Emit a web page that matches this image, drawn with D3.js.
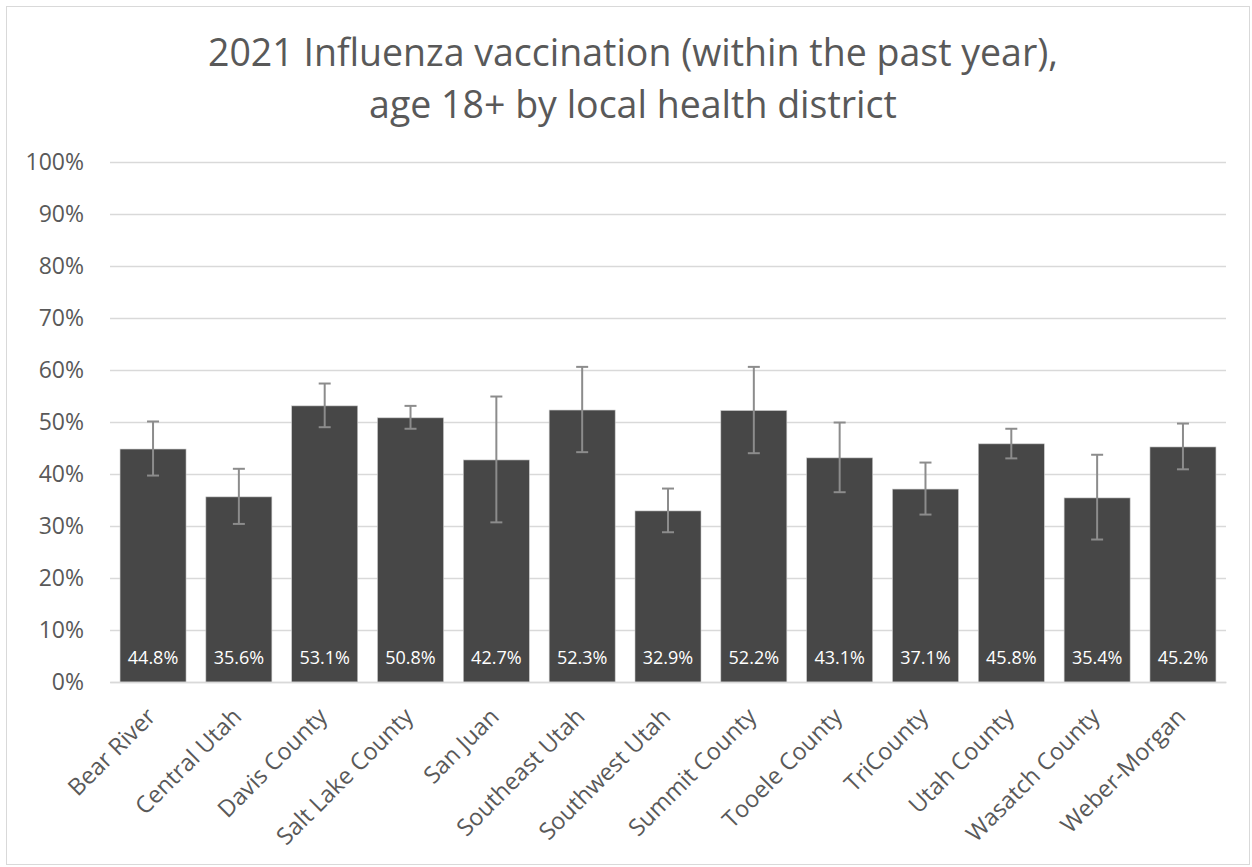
<!DOCTYPE html>
<html><head><meta charset="utf-8">
<script src="https://cdn.jsdelivr.net/npm/d3@7"></script>
<style>
html,body{margin:0;padding:0;background:#fff;}
svg{display:block;font-family:"Open Sans",sans-serif;}
</style></head>
<body>
<svg id="chart" width="1252" height="867"></svg>
<script>
const categories = ["Bear River","Central Utah","Davis County","Salt Lake County","San Juan","Southeast Utah","Southwest Utah","Summit County","Tooele County","TriCounty","Utah County","Wasatch County","Weber-Morgan"];
const values = [44.8,35.6,53.1,50.8,42.7,52.3,32.9,52.2,43.1,37.1,45.8,35.4,45.2];
const lower = [39.7,30.4,49.0,48.7,30.7,44.2,28.8,44.0,36.5,32.2,43.0,27.4,40.9];
const upper = [50.1,41.0,57.4,53.1,54.9,60.6,37.2,60.6,49.9,42.2,48.7,43.7,49.7];
const yTicks = [0,10,20,30,40,50,60,70,80,90,100];
const titleLines = ["2021 Influenza vaccination (within the past year),","age 18+ by local health district"];

const svg = d3.select("#chart");
svg.append("rect").attr("x",6.5).attr("y",6.5).attr("width",1243).attr("height",858)
  .attr("fill","#fff").attr("stroke","#d9d9d9").attr("stroke-width",1);

const x = d3.scaleBand().domain(categories).range([110,1226]).paddingInner(0.231).paddingOuter(0.117);
const y = d3.scaleLinear().domain([0,100]).range([682,162]);

// title
svg.append("g").selectAll("text").data(titleLines).join("text")
  .attr("x",633).attr("y",(d,i)=>66+i*52).attr("text-anchor","middle")
  .attr("font-size",37.5).attr("fill","#595959").text(d=>d);

// grid
const yAxis = d3.axisLeft(y).tickValues(yTicks).tickFormat(d=>d+"%").tickSize(-(1226-110)).tickPadding(26);
const gy = svg.append("g").attr("transform","translate(110,0)").call(yAxis);
gy.select(".domain").remove();
gy.selectAll(".tick line").attr("stroke","#d9d9d9").attr("stroke-width",1.5);
gy.selectAll(".tick text").attr("font-size",23).attr("fill","#595959").attr("font-family","Open Sans, sans-serif");

// bars
svg.append("g").selectAll("rect").data(values).join("rect")
  .attr("x",(d,i)=>x(categories[i])).attr("width",x.bandwidth())
  .attr("y",d=>y(d)).attr("height",d=>y(0)-y(d))
  .attr("fill","#474747").attr("stroke","#c8c8c8").attr("stroke-width",0.6);

// error bars
const eg = svg.append("g").attr("stroke","#8c8c8c").attr("stroke-width",2);
categories.forEach((c,i)=>{
  const cx = x(c)+x.bandwidth()/2;
  eg.append("line").attr("x1",cx).attr("x2",cx).attr("y1",y(lower[i])).attr("y2",y(upper[i]));
  eg.append("line").attr("x1",cx-6).attr("x2",cx+6).attr("y1",y(lower[i])).attr("y2",y(lower[i]));
  eg.append("line").attr("x1",cx-6).attr("x2",cx+6).attr("y1",y(upper[i])).attr("y2",y(upper[i]));
});

// value labels
svg.append("g").selectAll("text").data(values).join("text")
  .attr("x",(d,i)=>x(categories[i])+x.bandwidth()/2).attr("y",663.5)
  .attr("text-anchor","middle").attr("font-size",18).attr("fill","#fff")
  .text(d=>d.toFixed(1)+"%");

// x labels
const xAxis = d3.axisBottom(x).tickSize(0).tickPadding(0);
const gx = svg.append("g").attr("transform","translate(0,682)").call(xAxis);
gx.select(".domain").attr("stroke","#d9d9d9").attr("stroke-width",1.5);
gx.selectAll(".tick text").attr("font-size",23.5).attr("fill","#595959").attr("font-family","Open Sans, sans-serif")
  .attr("text-anchor","end").attr("dy",0)
  .attr("transform","translate(4,36) rotate(-45)");
</script>
</body></html>
